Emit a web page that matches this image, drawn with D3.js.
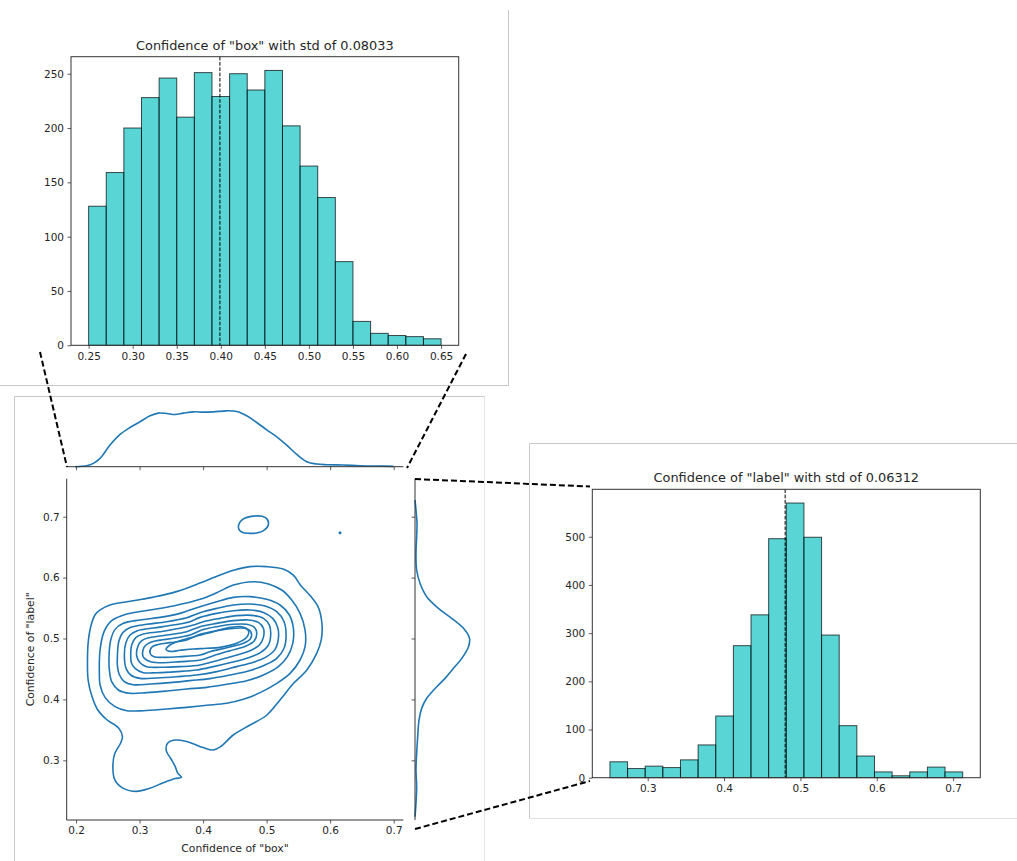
<!DOCTYPE html>
<html><head><meta charset="utf-8">
<script src="https://cdn.jsdelivr.net/npm/d3@7"></script>
<style>
html,body{margin:0;padding:0;background:#fff;}
svg{display:block;font-family:"DejaVu Sans",sans-serif;}
</style></head>
<body>
<script>
// ---------- DATA ----------
const boxBinStart = 0.25, boxBinWidth = 0.02;
const boxCounts = [128,159,200,228,246,210,251,229,250,235,253,202,165,136,77,22,11,9,8,6];
const boxMean = 0.399;
const boxTitle = 'Confidence of "box" with std of 0.08033';
const boxXTicks = [0.25,0.30,0.35,0.40,0.45,0.50,0.55,0.60,0.65];
const boxYTicks = [0,50,100,150,200,250];

const labelBinStart = 0.2505, labelBinWidth = 0.0231;
const labelCounts = [33,19,24,21,37,68,128,274,338,496,570,499,296,108,45,12,4,12,22,12];
const labelMean = 0.48;
const labelTitle = 'Confidence of "label" with std of 0.06312';
const labelXTicks = [0.3,0.4,0.5,0.6,0.7];
const labelYTicks = [0,100,200,300,400,500];

const jointXTicks = [0.2,0.3,0.4,0.5,0.6,0.7];
const jointYTicks = [0.3,0.4,0.5,0.6,0.7];
const jointXLabel = 'Confidence of "box"';
const jointYLabel = 'Confidence of "label"';

// marginal KDE of "box" : [x, density]
const kdeBox = [[0.1984,0],[0.2168,0.077],[0.2273,0.256],[0.2378,0.641],[0.2535,1.667],[0.2693,2.487],
 [0.2850,3.026],[0.3007,3.462],[0.3165,3.923],[0.3296,4.128],[0.3427,4.103],[0.3558,4.026],[0.3689,4.128],
 [0.3847,4.231],[0.4004,4.205],[0.4162,4.231],[0.4372,4.308],[0.4529,4.256],[0.4686,3.923],[0.4844,3.410],
 [0.5001,2.846],[0.5159,2.308],[0.5316,1.667],[0.5474,0.949],[0.5631,0.385],[0.5788,0.205],[0.5946,0.154],
 [0.6208,0.128],[0.6470,0.077],[0.6733,0.051],[0.6995,0.026]];
// marginal KDE of "label" : [y, density]
const kdeLabel = [[0.7274,0],[0.7110,0.133],[0.6891,0.265],[0.6672,0.221],[0.6399,0.133],[0.6125,0.221],
 [0.5906,0.664],[0.5686,1.549],[0.5495,3.097],[0.5331,4.867],[0.5167,6.416],[0.5003,7.212],[0.4865,7.080],
 [0.4674,6.195],[0.4510,5.088],[0.4346,3.982],[0.4208,2.876],[0.4018,1.549],[0.3853,0.885],[0.3661,0.531],
 [0.3387,0.354],[0.3115,0.221],[0.2840,0.133],[0.2567,0.221],[0.2294,0.133],[0.2074,0]];

// contour rings of the joint KDE: [x, y]
const ring1 = [[0.230,0.539],[0.238,0.547],[0.2535,0.555],[0.290,0.562],[0.322,0.568],[0.358,0.577],[0.395,0.591],
 [0.421,0.602],[0.448,0.612],[0.474,0.618],[0.500,0.618],[0.526,0.614],[0.542,0.604],[0.553,0.588],[0.568,0.571],
 [0.581,0.552],[0.587,0.525],[0.586,0.498],[0.579,0.476],[0.563,0.448],[0.542,0.426],[0.521,0.399],[0.500,0.374],
 [0.474,0.358],[0.448,0.342],[0.427,0.322],[0.416,0.317],[0.400,0.321],[0.374,0.331],[0.353,0.333],[0.344,0.328],
 [0.342,0.316],[0.349,0.303],[0.356,0.290],[0.360,0.279],[0.366,0.272],[0.356,0.270],[0.337,0.263],[0.316,0.254],
 [0.295,0.249],[0.2745,0.254],[0.261,0.268],[0.258,0.290],[0.261,0.311],[0.270,0.328],[0.273,0.339],[0.267,0.353],
 [0.248,0.367],[0.234,0.383],[0.225,0.405],[0.219,0.432],[0.218,0.459],[0.219,0.492],[0.223,0.519]];
const ring2 = [[0.2367,0.4428],[0.2378,0.4811],[0.2441,0.5112],[0.2561,0.5293],[0.2798,0.5402],[0.3165,0.5468],
 [0.3532,0.5534],[0.3952,0.5643],[0.4214,0.5752],[0.4477,0.5878],[0.4791,0.5933],[0.5028,0.5895],[0.5237,0.5796],
 [0.5395,0.5632],[0.5526,0.5413],[0.5605,0.5139],[0.5605,0.4866],[0.5526,0.4647],[0.5369,0.4428],[0.5159,0.4264],
 [0.4896,0.4111],[0.4634,0.4001],[0.4372,0.3936],[0.4057,0.3903],[0.3742,0.3870],[0.3427,0.3843],[0.3060,0.3815],
 [0.2798,0.3815],[0.2614,0.3881],[0.2456,0.4034],[0.2378,0.4237]];
const ring3 = [[0.2519,0.4702],[0.2546,0.4975],[0.2614,0.5150],[0.2745,0.5249],[0.3007,0.5304],[0.3322,0.5347],
 [0.3637,0.5413],[0.3952,0.5523],[0.4214,0.5605],[0.4477,0.5676],[0.4739,0.5687],[0.5001,0.5643],[0.5211,0.5550],
 [0.5358,0.5386],[0.5421,0.5167],[0.5411,0.4921],[0.5327,0.4702],[0.5185,0.4538],[0.4949,0.4401],[0.4686,0.4308],
 [0.4372,0.4248],[0.4057,0.4198],[0.3742,0.4171],[0.3427,0.4138],[0.3112,0.4111],[0.2850,0.4100],[0.2666,0.4155],
 [0.2561,0.4291],[0.2525,0.4483]];
const ring4 = [[0.2651,0.4702],[0.2672,0.4948],[0.2735,0.5096],[0.2861,0.5183],[0.3112,0.5233],[0.3427,0.5276],
 [0.3742,0.5342],[0.3952,0.5424],[0.4214,0.5495],[0.4477,0.5550],[0.4739,0.5566],[0.4975,0.5534],[0.5159,0.5440],
 [0.5274,0.5276],[0.5306,0.5057],[0.5274,0.4839],[0.5159,0.4674],[0.4975,0.4565],[0.4713,0.4467],[0.4424,0.4401],
 [0.4109,0.4341],[0.3794,0.4308],[0.3480,0.4275],[0.3165,0.4253],[0.2902,0.4242],[0.2756,0.4297],[0.2677,0.4417],
 [0.2651,0.4559]];
const ring5 = [[0.2761,0.4702],[0.2782,0.4921],[0.2850,0.5057],[0.2965,0.5129],[0.3217,0.5172],[0.3532,0.5221],
 [0.3794,0.5276],[0.3952,0.5347],[0.4214,0.5413],[0.4477,0.5457],[0.4739,0.5468],[0.4949,0.5429],[0.5096,0.5331],
 [0.5174,0.5183],[0.5185,0.5003],[0.5132,0.4822],[0.5001,0.4702],[0.4791,0.4609],[0.4529,0.4538],[0.4214,0.4456],
 [0.3899,0.4401],[0.3585,0.4373],[0.3270,0.4352],[0.3007,0.4346],[0.2861,0.4401],[0.2787,0.4510]];
const ring6 = [[0.2861,0.4702],[0.2876,0.4893],[0.2944,0.5019],[0.3060,0.5074],[0.3322,0.5112],[0.3637,0.5167],
 [0.3847,0.5221],[0.4004,0.5276],[0.4267,0.5331],[0.4529,0.5375],[0.4765,0.5380],[0.4949,0.5331],[0.5043,0.5221],
 [0.5064,0.5057],[0.5028,0.4893],[0.4907,0.4773],[0.4713,0.4685],[0.4450,0.4609],[0.4162,0.4538],[0.3899,0.4483],
 [0.3585,0.4456],[0.3270,0.4439],[0.3060,0.4439],[0.2929,0.4510],[0.2871,0.4603]];
const ring7 = [[0.2955,0.4713],[0.2971,0.4866],[0.3034,0.4964],[0.3154,0.5014],[0.3427,0.5057],[0.3742,0.5112],
 [0.3952,0.5194],[0.4214,0.5249],[0.4477,0.5293],[0.4713,0.5304],[0.4870,0.5265],[0.4949,0.5167],[0.4949,0.5019],
 [0.4886,0.4893],[0.4739,0.4800],[0.4477,0.4713],[0.4214,0.4636],[0.3952,0.4565],[0.3637,0.4538],[0.3322,0.4527],
 [0.3112,0.4538],[0.3007,0.4603]];
const ring8 = [[0.3049,0.4729],[0.3070,0.4855],[0.3139,0.4921],[0.3270,0.4964],[0.3532,0.5003],[0.3794,0.5057],
 [0.3978,0.5139],[0.4214,0.5194],[0.4477,0.5233],[0.4686,0.5233],[0.4807,0.5183],[0.4844,0.5085],[0.4807,0.4964],
 [0.4676,0.4877],[0.4424,0.4800],[0.4162,0.4718],[0.3952,0.4647],[0.3637,0.4620],[0.3375,0.4603],[0.3175,0.4620],
 [0.3076,0.4674]];
const ring9 = [[0.3165,0.4756],[0.3191,0.4855],[0.3280,0.4899],[0.3480,0.4932],[0.3742,0.4975],[0.3952,0.5068],
 [0.4214,0.5129],[0.4477,0.5167],[0.4660,0.5167],[0.4749,0.5112],[0.4749,0.5003],[0.4634,0.4921],[0.4372,0.4849],
 [0.4109,0.4784],[0.3952,0.4729],[0.3637,0.4702],[0.3375,0.4691],[0.3228,0.4702]];
const ring10 = [[0.3417,0.4822],[0.3480,0.4893],[0.3637,0.4964],[0.3899,0.5041],[0.4162,0.5112],[0.4424,0.5183],
 [0.4608,0.5194],[0.4713,0.5129],[0.4686,0.5019],[0.4529,0.4921],[0.4267,0.4855],[0.4057,0.4839],[0.3847,0.4828],
 [0.3637,0.4806],[0.3480,0.4789]];
const island1 = [[0.4555,0.6836],[0.4623,0.6956],[0.479,0.701],[0.4975,0.699],[0.503,0.689],[0.495,0.677],[0.4765,0.6726],[0.459,0.676]];
const island2 = [[0.6143,0.6737],[0.6155,0.6750],[0.6167,0.6737],[0.6155,0.6724]];
const rings = [ring1,ring2,ring3,ring4,ring5,ring6,ring7,ring8,ring9,ring10,island1,island2];

// ---------- LAYOUT ----------
const W = 1017, H = 861;
const L = {
  top:   {l:71, r:458.7, t:56.7, b:345.3},
  right: {l:592.3, r:980.3, t:489.3, b:777.7},
  joint: {l:66.7, r:403.3, t:478.7, b:820},
  margX: {t:399, b:466.7},
  margY: {l:415, r:483}
};
const tickFont = 10.5, titleFont = 12.9, labelFont = 10.8;
const txtColor = "#262626";
const kdeColor = "#1f77b4";

const svg = d3.select("body").append("svg").attr("width", W).attr("height", H);

// frames (inset borders)
const frameC = "#c8c8c8";
svg.append("line").attr("x1",508.5).attr("x2",508.5).attr("y1",10).attr("y2",386).attr("stroke",frameC);
svg.append("line").attr("x1",0).attr("x2",508.5).attr("y1",385.5).attr("y2",385.5).attr("stroke",frameC);
svg.append("line").attr("x1",14.5).attr("x2",14.5).attr("y1",396.5).attr("y2",H).attr("stroke",frameC);
svg.append("line").attr("x1",14.5).attr("x2",484.5).attr("y1",396.5).attr("y2",396.5).attr("stroke",frameC);
svg.append("line").attr("x1",484.5).attr("x2",484.5).attr("y1",396.5).attr("y2",H).attr("stroke","#e4e4e4");
svg.append("line").attr("x1",529.5).attr("x2",529.5).attr("y1",443.5).attr("y2",818.5).attr("stroke",frameC);
svg.append("line").attr("x1",529.5).attr("x2",W).attr("y1",443.5).attr("y2",443.5).attr("stroke",frameC);
svg.append("line").attr("x1",529.5).attr("x2",W).attr("y1",818.5).attr("y2",818.5).attr("stroke","#e0e0e0");

function styleAxis(g){
  g.selectAll(".domain").remove();
  g.selectAll(".tick line").attr("stroke","#333").attr("stroke-width",0.8);
  g.selectAll(".tick text").attr("fill",txtColor).style("font-size",tickFont+"px").style("font-family","DejaVu Sans");
}

function histogram(box, start, width, counts, mean, title, xTicks, yTicks, xDomain, xFmt){
  const x = d3.scaleLinear().domain(xDomain).range([box.l, box.r]);
  const yMax = d3.max(counts)*1.05;
  const y = d3.scaleLinear().domain([0, yMax]).range([box.b, box.t]);
  const g = svg.append("g");
  g.selectAll("rect.bar").data(counts).join("rect")
    .attr("x", (d,i)=>x(start+i*width))
    .attr("width", (d,i)=>x(start+(i+1)*width)-x(start+i*width))
    .attr("y", d=>y(d)).attr("height", d=>y(0)-y(d))
    .attr("fill","rgba(0,191,191,0.65)")
    .attr("stroke","rgba(0,0,0,0.7)").attr("stroke-width",1);
  g.append("line").attr("x1",x(mean)).attr("x2",x(mean)).attr("y1",box.t).attr("y2",box.b)
    .attr("stroke","#000").attr("stroke-width",1).attr("stroke-dasharray","3.7,1.6");
  g.append("rect").attr("x",box.l).attr("y",box.t).attr("width",box.r-box.l).attr("height",box.b-box.t)
    .attr("fill","none").attr("stroke","#333").attr("stroke-width",1);
  const gx = g.append("g").attr("transform",`translate(0,${box.b})`)
    .call(d3.axisBottom(x).tickValues(xTicks).tickFormat(d3.format(xFmt)).tickSize(3.5).tickPadding(3.5));
  styleAxis(gx);
  const gy = g.append("g").attr("transform",`translate(${box.l},0)`)
    .call(d3.axisLeft(y).tickValues(yTicks).tickFormat(d3.format("d")).tickSize(3.5).tickPadding(3.5));
  styleAxis(gy);
  g.append("text").attr("x",(box.l+box.r)/2).attr("y",box.t-7).attr("text-anchor","middle")
    .attr("fill",txtColor).style("font-size",titleFont+"px").text(title);
}

histogram(L.top, boxBinStart, boxBinWidth, boxCounts, boxMean, boxTitle, boxXTicks, boxYTicks, [0.23,0.67], ".2f");
histogram(L.right, labelBinStart, labelBinWidth, labelCounts, labelMean, labelTitle, labelXTicks, labelYTicks, [0.2274,0.7356], ".1f");

// ---------- JOINT ----------
const jx = d3.scaleLinear().domain([0.1853,0.7151]).range([L.joint.l, L.joint.r]);
const jy = d3.scaleLinear().domain([0.202,0.7624]).range([L.joint.b, L.joint.t]);
const jg = svg.append("g");
const ringLine = d3.line().x(d=>jx(d[0])).y(d=>jy(d[1])).curve(d3.curveCatmullRomClosed.alpha(0.5));
jg.selectAll("path.ring").data(rings).join("path")
  .attr("d", ringLine).attr("fill",(d,i)=>i===rings.length-1?kdeColor:"none")
  .attr("stroke",kdeColor).attr("stroke-width",1.6);

jg.append("line").attr("x1",L.joint.l).attr("x2",L.joint.l).attr("y1",L.joint.t).attr("y2",L.joint.b).attr("stroke","#333").attr("stroke-width",1);
jg.append("line").attr("x1",L.joint.l).attr("x2",L.joint.r).attr("y1",L.joint.b).attr("y2",L.joint.b).attr("stroke","#333").attr("stroke-width",1);
const jgx = jg.append("g").attr("transform",`translate(0,${L.joint.b})`)
  .call(d3.axisBottom(jx).tickValues(jointXTicks).tickFormat(d3.format(".1f")).tickSize(3.5).tickPadding(3.5));
styleAxis(jgx);
const jgy = jg.append("g").attr("transform",`translate(${L.joint.l},0)`)
  .call(d3.axisLeft(jy).tickValues(jointYTicks).tickFormat(d3.format(".1f")).tickSize(3.5).tickPadding(3.5));
styleAxis(jgy);
jg.append("text").attr("x",(L.joint.l+L.joint.r)/2).attr("y",L.joint.b+32).attr("text-anchor","middle")
  .attr("fill",txtColor).style("font-size",labelFont+"px").text(jointXLabel);
jg.append("text").attr("transform",`translate(${34},${(L.joint.t+L.joint.b)/2}) rotate(-90)`).attr("text-anchor","middle")
  .attr("fill",txtColor).style("font-size",labelFont+"px").text(jointYLabel);

// top marginal
const mxY = d3.scaleLinear().domain([0,5.22]).range([L.margX.b, L.margX.t]);
jg.append("path").datum(kdeBox)
  .attr("d", d3.line().x(d=>jx(d[0])).y(d=>mxY(d[1])).curve(d3.curveCatmullRom.alpha(0.5)))
  .attr("fill","none").attr("stroke",kdeColor).attr("stroke-width",1.6);
jg.append("line").attr("x1",L.joint.l).attr("x2",L.joint.r).attr("y1",L.margX.b).attr("y2",L.margX.b).attr("stroke","#333").attr("stroke-width",1);
const mgx = jg.append("g").attr("transform",`translate(0,${L.margX.b})`)
  .call(d3.axisBottom(jx).tickValues(jointXTicks).tickFormat("").tickSize(3.5));
styleAxis(mgx);

// right marginal
const myX = d3.scaleLinear().domain([0,9.0]).range([L.margY.l, L.margY.r]);
jg.append("path").datum(kdeLabel)
  .attr("d", d3.line().x(d=>myX(d[1])).y(d=>jy(d[0])).curve(d3.curveCatmullRom.alpha(0.5)))
  .attr("fill","none").attr("stroke",kdeColor).attr("stroke-width",1.6);
jg.append("line").attr("x1",L.margY.l).attr("x2",L.margY.l).attr("y1",L.joint.t).attr("y2",L.joint.b).attr("stroke","#333").attr("stroke-width",1);
const mgy = jg.append("g").attr("transform",`translate(${L.margY.l},0)`)
  .call(d3.axisLeft(jy).tickValues(jointYTicks).tickFormat("").tickSize(3.5));
styleAxis(mgy);

// ---------- connectors ----------
const connectors = [
  [[40,352],[67,467]],
  [[466,354],[407,468]],
  [[415,479],[590,486.5]],
  [[415,829],[590,781]]
];
svg.selectAll("line.conn").data(connectors).join("line")
  .attr("x1",d=>d[0][0]).attr("y1",d=>d[0][1]).attr("x2",d=>d[1][0]).attr("y2",d=>d[1][1])
  .attr("stroke","#000").attr("stroke-width",2).attr("stroke-dasharray","6,3");
</script>
</body></html>
